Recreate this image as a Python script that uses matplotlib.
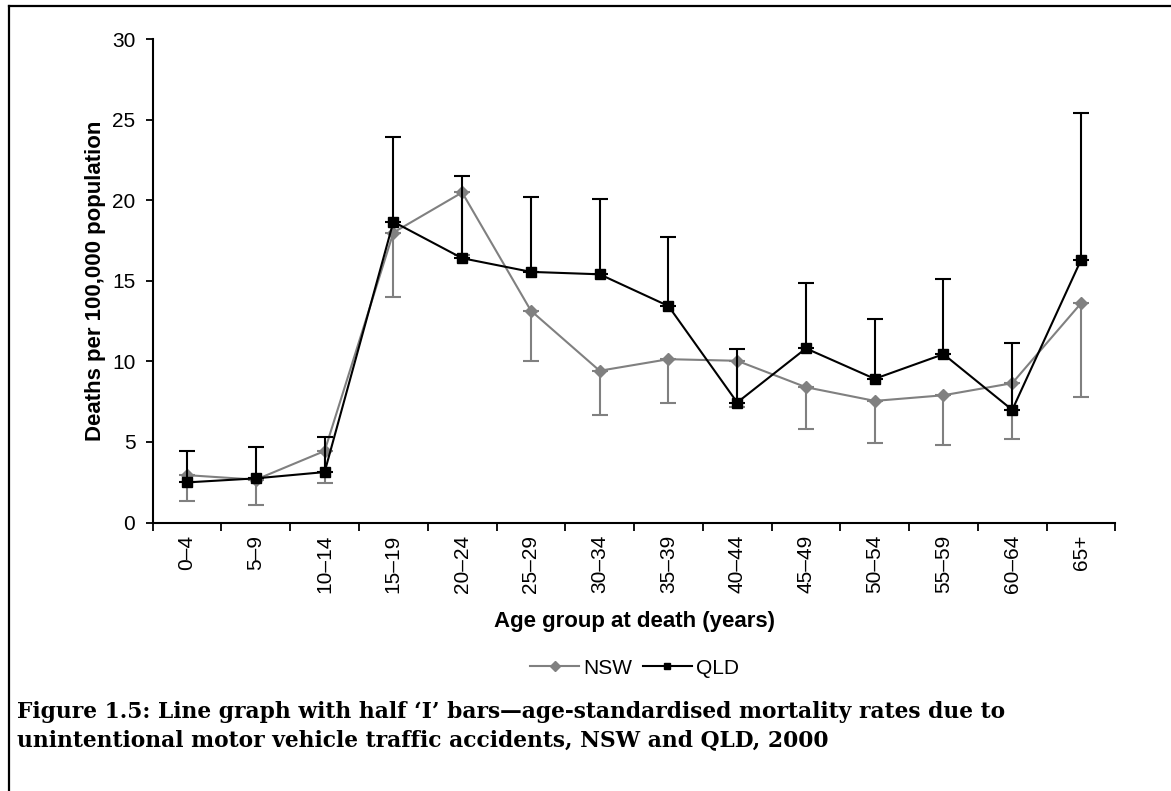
import matplotlib
matplotlib.use('Agg')
import matplotlib.pyplot as plt
from matplotlib.lines import Line2D

plt.rcParams['font.family'] = ['Liberation Sans', 'DejaVu Sans']

# age groups and rates (deaths per 100,000)
age_groups = ['0–4', '5–9', '10–14', '15–19', '20–24', '25–29', '30–34',
              '35–39', '40–44', '45–49', '50–54', '55–59', '60–64', '65+']
nsw = [2.94, 2.66, 4.44, 18.0, 20.49, 13.15, 9.42, 10.14, 10.04, 8.40, 7.55, 7.90, 8.65, 13.61]
nsw_lower = [1.33, 1.08, 2.45, 14.02, 16.6, 10.04, 6.66, 7.40, 7.18, 5.81, 4.93, 4.81, 5.18, 7.80]
qld = [2.49, 2.74, 3.13, 18.67, 16.41, 15.56, 15.41, 13.44, 7.45, 10.81, 8.92, 10.45, 6.99, 16.30]
qld_upper = [4.42, 4.69, 5.31, 23.94, 21.49, 20.24, 20.10, 17.75, 10.77, 14.87, 12.65, 15.12, 11.14, 25.45]

W, H = 1171, 791
fig = plt.figure(figsize=(W / 100, H / 100), dpi=100)
ax = fig.add_axes([152.7 / W, 1 - 522.5 / H, (1115.4 - 152.7) / W, (522.5 - 39.3) / H])

x = [i + 0.5 for i in range(len(age_groups))]
grey = '#808080'

# half 'I' bars: NSW hangs down, QLD sticks up
nsw_err = [[v - lo for v, lo in zip(nsw, nsw_lower)], [0] * len(nsw)]
qld_err = [[0] * len(qld), [hi - v for v, hi in zip(qld, qld_upper)]]

ax.errorbar(x, nsw, yerr=nsw_err, color=grey, ecolor=grey, elinewidth=1.5,
            capsize=6, capthick=1.5, lw=1.5, marker='D', ms=6.5, mec=grey,
            mfc=grey, label='NSW', zorder=2)
ax.errorbar(x, qld, yerr=qld_err, color='black', ecolor='black', elinewidth=1.5,
            capsize=6, capthick=1.5, lw=1.5, marker='s', ms=6.5, mec='black',
            mfc='black', label='QLD', zorder=3)

ax.set_xlim(0, len(age_groups))
ax.set_ylim(0, 30)
ax.set_yticks(range(0, 31, 5))
ax.set_xticks(x)
ax.set_xticklabels(age_groups, rotation=90)
ax.set_xticks(range(len(age_groups) + 1), minor=True)
ax.tick_params(axis='x', which='major', length=0, pad=9, labelsize=15)
ax.tick_params(axis='x', which='minor', length=6, width=1.3, direction='out')
ax.tick_params(axis='y', length=5, width=1.3, direction='out', pad=7.5, labelsize=15)

for side in ('top', 'right'):
    ax.spines[side].set_visible(False)
for side in ('left', 'bottom'):
    ax.spines[side].set_linewidth(1.5)

# axis titles
fig.text(96 / W, 1 - 281 / H, 'Deaths per 100,000 population', fontsize=16,
         fontweight='bold', rotation=90, ha='center', va='center')
fig.text(634 / W, 1 - 622 / H, 'Age group at death (years)', fontsize=16,
         fontweight='bold', ha='center', va='center')

handles = [Line2D([], [], color=grey, lw=1.5, marker='D', ms=5, label='NSW'),
           Line2D([], [], color='black', lw=1.5, marker='s', ms=5, label='QLD')]
fig.legend(handles=handles, loc='center', bbox_to_anchor=(634.5 / W, 1 - 668 / H),
           ncol=2, frameon=False, fontsize=15, handlelength=2.35, handletextpad=0.2,
           columnspacing=0.5, borderpad=0)

cap_font = dict(fontsize=15.7, fontweight='bold', family=['DejaVu Serif'],
                va='center', ha='left')
fig.text(17 / W, 1 - 712 / H,
         'Figure 1.5: Line graph with half ‘I’ bars—age-standardised mortality rates due to',
         **cap_font)
fig.text(17 / W, 1 - 740 / H,
         'unintentional motor vehicle traffic accidents, NSW and QLD, 2000', **cap_font)

# frame line on the left and top edges
fig.add_artist(Line2D([9 / W, 9 / W], [0, 1 - 5.5 / H], transform=fig.transFigure, color='black', lw=1.6))
fig.add_artist(Line2D([9 / W, 1], [1 - 5.5 / H, 1 - 5.5 / H], transform=fig.transFigure, color='black', lw=1.6))

fig.savefig('out.png', dpi=100)
